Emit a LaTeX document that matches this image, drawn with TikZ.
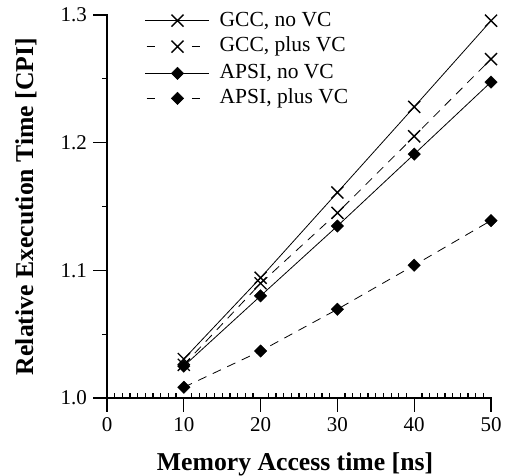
\documentclass[tikz,border=0pt]{standalone}
\usepackage{fontspec}
\setmainfont{Liberation Serif}
\usetikzlibrary{plotmarks}
\begin{document}
\begin{tikzpicture}[x=1pt,y=1pt,
  axisline/.style={line width=1.4pt, line cap=rect},
  tickline/.style={line width=1.3pt},
  dataline/.style={line width=0.8pt},
  dashline/.style={line width=0.8pt, dash pattern=on 9pt off 7pt},
  xmk/.style={mark=x, mark size=8.5pt, mark options={solid, line width=1.4pt}},
  dmk/.style={mark=square*, mark size=4.4pt, mark options={solid, rotate=45, line width=0.4pt}},
  ticklabel/.style={font=\fontsize{21}{25}\selectfont, inner sep=0pt},
  leglabel/.style={font=\fontsize{21.5}{25}\selectfont, inner sep=0pt, anchor=west},
  axislabel/.style={font=\fontsize{25.7}{30}\selectfont\bfseries, inner sep=0pt, anchor=base}]
\useasboundingbox (0,0) rectangle (505,475);

\begin{scope}[shift={(107pt,77pt)}, x=7.68pt, y=1276.7pt]
  % axes
  \draw[axisline] (0,0.3) -- (0,0) -- (50,0);
  \foreach \i in {0,10,...,50} \draw[tickline] (\i,0) -- ++(0,-14pt);
  \foreach \i in {1,...,49} {
    \pgfmathtruncatemacro{\r}{mod(\i,10)}
    \ifnum\r=0\relax\else \draw[tickline] (\i,0) -- ++(0,5pt);\fi
  }
  \foreach \v in {0,0.1,0.2,0.3} \draw[tickline] (0,\v) -- ++(-14pt,0);
  \foreach \v in {0.05,0.15,0.25} \draw[tickline] (0,\v) -- ++(-5.5pt,0);

  % tick labels
  \foreach \i in {0,10,...,50} \node[ticklabel, anchor=north] (xl\i) at ([yshift=-19pt]\i,0) {\i};
  \node[ticklabel, anchor=east] (yl0) at ([xshift=-20pt]0,0) {1.0};
  \node[ticklabel, anchor=east] (yl1) at ([xshift=-20pt]0,0.1) {1.1};
  \node[ticklabel, anchor=east] (yl2) at ([xshift=-20pt]0,0.2) {1.2};
  \node[ticklabel, anchor=east] (yl3) at ([xshift=-20pt]0,0.3) {1.3};

  % data lines
  \draw[dataline] plot coordinates {(10,.0305) (20,.0942) (30,.161) (40,.228) (50,.2955)};
  \draw[dashline] plot coordinates {(10,.026) (20,.0898) (30,.145) (40,.205) (50,.2655)};
  \draw[dataline] plot coordinates {(10,.025) (20,.080) (30,.1347) (40,.191) (50,.2475)};
  \draw[dashline] plot coordinates {(10,.0084) (20,.0368) (30,.0695) (40,.104) (50,.139)};
  % markers
  \path plot[xmk] coordinates {(10,.0305) (20,.0942) (30,.161) (40,.228) (50,.2955)};
  \path plot[xmk] coordinates {(10,.026) (20,.0898) (30,.145) (40,.205) (50,.2655)};
  \path plot[dmk] coordinates {(10,.025) (20,.080) (30,.1347) (40,.191) (50,.2475)};
  \path plot[dmk] coordinates {(10,.0084) (20,.0368) (30,.0695) (40,.104) (50,.139)};
\end{scope}

% legend
\draw[dataline] (145,454.3) -- (209,454.3);
\path plot[xmk] coordinates {(177.5,454.3)};
\node[leglabel] (lg1) at (219.5,454.3) {GCC, no VC};

\draw[line width=0.8pt, dash pattern=on 8.3pt off 37pt] (146.5,428.3) -- (200,428.3);
\path plot[xmk] coordinates {(177.5,428.3)};
\node[leglabel] (lg2) at (219.5,428.3) {GCC, plus VC};

\draw[dataline] (145,401.7) -- (209,401.7);
\path plot[dmk] coordinates {(177.5,401.7)};
\node[leglabel] (lg3) at (219.5,401.7) {APSI, no VC};

\draw[line width=0.8pt, dash pattern=on 8.3pt off 37pt] (146.5,376.7) -- (200,376.7);
\path plot[dmk] coordinates {(177.5,376.7)};
\node[leglabel] (lg4) at (219.5,376.7) {APSI, plus VC};

% axis labels
\node[axislabel] (xlab) at (295,5) {Memory Access time [ns]};
\node[axislabel, rotate=90] (ylab) at (33,268.5) {Relative Execution Time [CPI]};
\end{tikzpicture}
\end{document}
